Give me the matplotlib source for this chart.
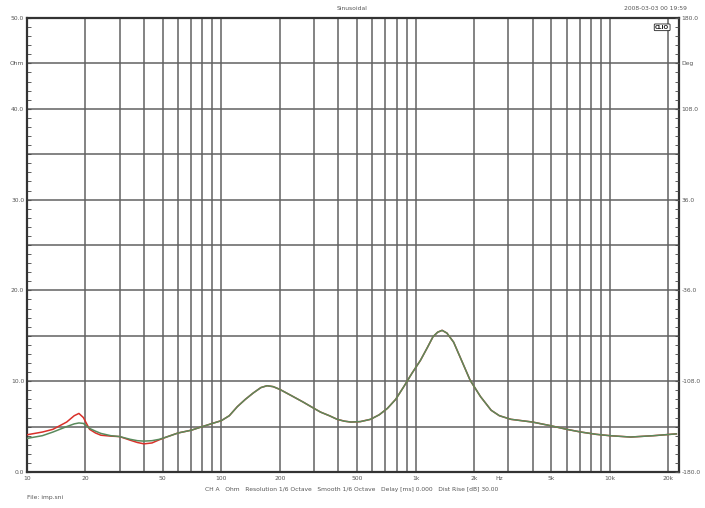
import matplotlib
matplotlib.use("Agg")
import matplotlib.pyplot as plt
import numpy as np

# impedance curves (Hz, Ohm)
freq_low = [10, 12, 13.6, 16, 17.5, 18.5, 19.5, 21, 22.5, 24, 27, 30, 34, 37, 40, 44, 48, 53]
imp_red_low = [4.1, 4.4, 4.7, 5.5, 6.2, 6.45, 6.0, 4.7, 4.3, 4.05, 3.95, 3.9, 3.5, 3.25, 3.1, 3.2, 3.55, 3.9]
imp_green_low = [3.7, 4.0, 4.4, 5.0, 5.3, 5.4, 5.35, 4.8, 4.5, 4.25, 4.0, 3.9, 3.6, 3.45, 3.4, 3.45, 3.6, 3.9]

freq_high = [60, 70, 80, 90, 100, 110, 121, 133, 146, 160, 172, 185, 200, 230, 264, 295, 324,
             360, 395, 430, 465, 520, 586, 650, 716, 790, 870, 960, 1060, 1150, 1230, 1300,
             1370, 1450, 1570, 1700, 1910, 2160, 2450, 2700, 3100, 4000, 4950, 6000, 7100,
             8500, 10000, 12800, 16800, 22000]
imp_high = [4.3, 4.6, 5.0, 5.35, 5.65, 6.2, 7.2, 8.0, 8.7, 9.3, 9.5, 9.4, 9.1, 8.4, 7.7, 7.1, 6.6,
            6.2, 5.8, 5.6, 5.5, 5.55, 5.8, 6.3, 7.0, 8.0, 9.4, 10.9, 12.3, 13.7, 14.9, 15.4,
            15.6, 15.3, 14.3, 12.6, 10.1, 8.3, 6.8, 6.2, 5.8, 5.5, 5.1, 4.7, 4.4,
            4.15, 4.0, 3.85, 4.0, 4.2]

freq = freq_low + freq_high
imp_red = imp_red_low + imp_high
imp_green = imp_green_low + imp_high

grid_freqs = [20, 30, 40, 50, 60, 70, 80, 90, 100, 200, 300, 400, 500, 600, 700, 800, 900,
              1000, 2000, 3000, 4000, 5000, 6000, 7000, 8000, 9000, 10000, 20000]
x_ticks = [10, 20, 50, 100, 200, 500, 1000, 2000, 2700, 5000, 10000, 20000]
x_labels = ["10", "20", "50", "100", "200", "500", "1k", "2k", "Hz", "5k", "10k", "20k"]
y_ticks = [0, 10, 20, 30, 40, 45, 50]
y_labels = ["0.0", "10.0", "20.0", "30.0", "40.0", "Ohm", "50.0"]
deg_ticks = [-180, -108, -36, 36, 108, 144, 180]
deg_labels = ["-180.0", "-108.0", "-36.0", "36.0", "108.0", "Deg", "180.0"]

txt = "#555555"
fs = 4.3

fig = plt.figure(figsize=(7.05, 5.08), dpi=100)
ax = fig.add_axes([27 / 705, 36 / 508, 652 / 705, 454 / 508])

ax.set_xscale("log")
ax.set_xlim(10, 22700)
ax.set_ylim(0, 50)

for f in grid_freqs:
    ax.axvline(f, color="#626262", lw=1.1, zorder=1)
for h in range(5, 50, 5):
    ax.axhline(h, color="#626262", lw=1.1, zorder=1)

ax.plot(freq, imp_red, color="#d9312a", lw=1.1, zorder=3)
ax.plot(freq, imp_green, color="#5a8a5c", lw=1.1, zorder=4)

ax.set_xticks(x_ticks)
ax.set_xticklabels(x_labels)
ax.xaxis.set_minor_locator(matplotlib.ticker.NullLocator())
ax.tick_params(axis="x", length=0, labelsize=fs, colors=txt, pad=3)

ax.set_yticks(y_ticks)
ax.set_yticklabels(y_labels)
ax.set_yticks(np.arange(0, 51, 1), minor=True)
ax.tick_params(axis="y", which="major", direction="in", length=3, labelsize=fs,
               colors=txt, pad=2)
ax.tick_params(axis="y", which="minor", direction="in", length=3, color="#444444")

for s in ax.spines.values():
    s.set_linewidth(1.6)
    s.set_color("#333333")

ax2 = ax.twinx()
ax2.set_ylim(-180, 180)
ax2.set_yticks(deg_ticks)
ax2.set_yticklabels(deg_labels)
ax2.set_yticks(np.arange(-180, 181, 7.2), minor=True)
ax2.tick_params(axis="y", which="major", direction="in", length=3, labelsize=fs,
                colors=txt, pad=2)
ax2.tick_params(axis="y", which="minor", direction="in", length=3, color="#444444")
for s in ax2.spines.values():
    s.set_visible(False)

fig.text(352 / 705, 1 - 9 / 508, "Sinusoidal", fontsize=fs, color=txt, ha="center", va="center")
fig.text(655 / 705, 1 - 8 / 508, "2008-03-03 00 19:59", fontsize=fs, color=txt,
         ha="center", va="center")
ax.text(0.985, 0.985, "CLIO", transform=ax.transAxes, fontsize=4, fontweight="bold",
        color="#222222", ha="right", va="top",
        bbox=dict(boxstyle="round,pad=0.15", fc="white", ec="#222222", lw=0.6))
fig.text(352 / 705, 1 - 489 / 508,
         "CH A   Ohm   Resolution 1/6 Octave   Smooth 1/6 Octave   Delay [ms] 0.000   Dist Rise [dB] 30.00",
         fontsize=fs, color=txt, ha="center", va="center")
fig.text(27 / 705, 1 - 497 / 508, "File: imp.sni", fontsize=fs, color=txt, ha="left", va="center")

fig.savefig("out.png", dpi=100)
